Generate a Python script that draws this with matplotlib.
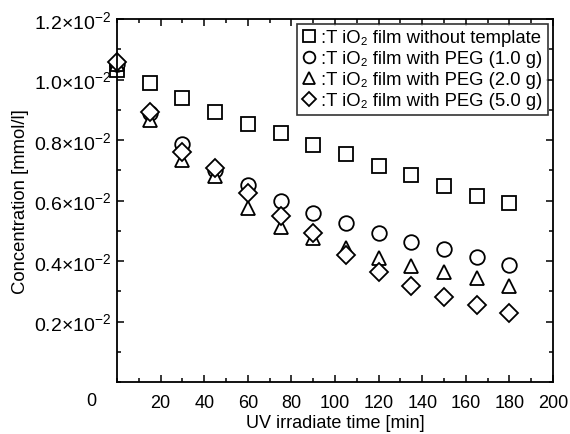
import matplotlib
matplotlib.use("Agg")
import matplotlib.pyplot as plt
from matplotlib.lines import Line2D
from matplotlib.ticker import MultipleLocator

plt.rcParams['font.family'] = ['Liberation Sans', 'DejaVu Sans']
plt.rcParams['mathtext.fontset'] = 'custom'
plt.rcParams['mathtext.rm'] = 'Liberation Sans'
plt.rcParams['mathtext.it'] = 'Liberation Sans:italic'
plt.rcParams['mathtext.bf'] = 'Liberation Sans:bold'

time = [0, 15, 30, 45, 60, 75, 90, 105, 120, 135, 150, 165, 180]
no_template = [1.03, 0.99, 0.938, 0.894, 0.853, 0.822, 0.783, 0.754, 0.713, 0.685, 0.647, 0.616, 0.591]
peg_1 = [1.05, 0.89, 0.787, 0.70, 0.652, 0.600, 0.559, 0.525, 0.493, 0.462, 0.440, 0.412, 0.387]
peg_2 = [1.05, 0.867, 0.735, 0.682, 0.575, 0.513, 0.475, 0.442, 0.409, 0.385, 0.363, 0.343, 0.318]
peg_5 = [1.058, 0.893, 0.759, 0.706, 0.624, 0.55, 0.492, 0.421, 0.365, 0.318, 0.282, 0.256, 0.228]
scale = 1e-2

labels = [":T iO\u2082 film without template",
          ":T iO\u2082 film with PEG (1.0 g)",
          ":T iO\u2082 film with PEG (2.0 g)",
          ":T iO\u2082 film with PEG (5.0 g)"]
markers = ['s', 'o', '^', 'D']
series = [no_template, peg_1, peg_2, peg_5]
sizes = [10.5, 10.5, 10.5, 9]

fig = plt.figure(figsize=(5.7, 4.35), dpi=100)
ax = fig.add_axes([117/570, 52/435, (553-117)/570, (383-20)/435])

for vals, m, s in zip(series, markers, sizes):
    ax.plot(time, [v*scale for v in vals], linestyle='none', marker=m,
            markersize=s, markerfacecolor='white', markeredgecolor='black',
            markeredgewidth=1.3, clip_on=False)

ax.set_xlim(0, 200)
ax.set_ylim(0, 1.2e-2)
ax.xaxis.set_minor_locator(MultipleLocator(10))
ax.yaxis.set_minor_locator(MultipleLocator(0.1e-2))

xt = [20, 40, 60, 80, 100, 120, 140, 160, 180, 200]
ax.set_xticks(xt)
ax.set_xticklabels([str(v) for v in xt])
yt = [0.2, 0.4, 0.6, 0.8, 1.0, 1.2]
ax.set_yticks([v*scale for v in yt])
ax.set_yticklabels([f"{v:.1f}\u00d710$^{{-2}}$" for v in yt])

ax.tick_params(which='both', direction='in', top=True, right=True, width=1.1)
ax.tick_params(axis='x', which='major', labelsize=13, length=5, pad=9)
ax.tick_params(axis='y', which='major', labelsize=14, length=5, pad=4)
ax.tick_params(which='minor', length=3)
for sp in ax.spines.values():
    sp.set_linewidth(1.3)

fig.text(91/570, 1-402/435, "0", ha='center', va='center', fontsize=13)

ax.set_xlabel("UV irradiate time [min]", fontsize=13, labelpad=2)
ax.set_ylabel("Concentration [mmol/l]", fontsize=13.3, labelpad=4)

handles = [Line2D([], [], linestyle='none', marker=m, markersize=s*0.8,
                  markerfacecolor='white', markeredgecolor='black', markeredgewidth=1.3)
           for m, s in zip(markers, sizes)]
leg = ax.legend(handles, labels, loc='upper right', fontsize=13.3, frameon=True,
                fancybox=False, edgecolor='black', handlelength=0.8,
                handletextpad=0.25, borderpad=0.3, labelspacing=0.22,
                borderaxespad=0.25)
leg.get_frame().set_linewidth(1.2)

fig.savefig("out.png", dpi=100)
